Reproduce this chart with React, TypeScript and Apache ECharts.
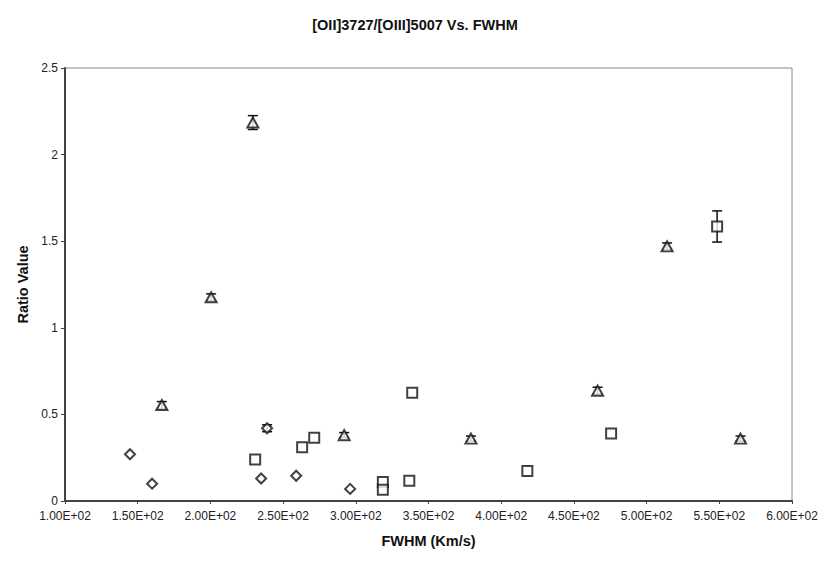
import React, { useEffect, useRef } from "react";
import * as echarts from "echarts";

// Diamonds series: [FWHM, ratio]
const diamondX = [144.7, 159.9, 234.9, 239, 259, 296.1];
const diamondY = [0.27, 0.1, 0.13, 0.42, 0.146, 0.07];
const diamondErr = [0, 0, 0, 0.02, 0, 0];

// Squares series
const squareX = [230.8, 263.1, 271.4, 318.6, 318.6, 336.8, 338.8, 418, 475.6, 548.5];
const squareY = [0.24, 0.31, 0.365, 0.11, 0.065, 0.117, 0.625, 0.173, 0.39, 1.585];
const squareErr = [0, 0, 0, 0, 0, 0, 0, 0, 0, 0.09];

// Triangles series
const triX = [166.6, 200.5, 229.2, 292, 379.2, 466.3, 514.1, 564.6];
const triY = [0.554, 1.176, 2.185, 0.38, 0.36, 0.637, 1.47, 0.36];
const triErr = [0.02, 0.02, 0.04, 0.015, 0.015, 0.02, 0.02, 0.015];

const xTicks = [100, 150, 200, 250, 300, 350, 400, 450, 500, 550, 600];
const yTicks = [0, 0.5, 1, 1.5, 2, 2.5];

const FONT = "'Liberation Sans', Arial, sans-serif";

function pts(xs: number[], ys: number[]) {
  return xs.map((x, i) => [x, ys[i]]);
}

function errData(xs: number[], ys: number[], es: number[]) {
  const out: number[][] = [];
  xs.forEach((x, i) => {
    if (es[i] > 0) out.push([x, ys[i] - es[i], ys[i] + es[i]]);
  });
  return out;
}

export default function App() {
  const ref = useRef<HTMLDivElement>(null);
  useEffect(() => {
    if (!ref.current) return;
    const chart = echarts.init(ref.current, null, { renderer: "svg" });
    const errs = [
      ...errData(diamondX, diamondY, diamondErr),
      ...errData(squareX, squareY, squareErr),
      ...errData(triX, triY, triErr),
    ];
    const markerStyle = { color: "#ffffff", borderColor: "#111", borderWidth: 2 };
    chart.setOption({
      animation: false,
      backgroundColor: "#ffffff",
      title: {
        text: "[OII]3727/[OIII]5007 Vs. FWHM",
        left: "center",
        top: 12,
        textStyle: { fontFamily: FONT, fontSize: 14.5, fontWeight: "bold", color: "#111" },
      },
      grid: {
        left: 65,
        top: 68,
        right: 38,
        bottom: 62,
        show: true,
        borderColor: "#888",
        borderWidth: 1,
        backgroundColor: "#fff",
      },
      xAxis: {
        type: "value",
        min: xTicks[0],
        max: xTicks[xTicks.length - 1],
        interval: 50,
        name: "FWHM (Km/s)",
        nameLocation: "middle",
        nameGap: 32,
        nameTextStyle: { fontFamily: FONT, fontSize: 14.5, fontWeight: "bold", color: "#111" },
        axisLine: { show: true, onZero: false, lineStyle: { color: "#444", width: 2 } },
        axisTick: { show: true, length: 3, lineStyle: { color: "#444", width: 1 } },
        splitLine: { show: false },
        axisLabel: {
          fontFamily: FONT,
          fontSize: 12,
          color: "#222",
          margin: 9,
          formatter: (v: number) => (v / 100).toFixed(2) + "E+02",
        },
      },
      yAxis: {
        type: "value",
        min: yTicks[0],
        max: yTicks[yTicks.length - 1],
        interval: 0.5,
        name: "Ratio Value",
        nameLocation: "middle",
        nameGap: 33,
        nameTextStyle: { fontFamily: FONT, fontSize: 14.5, fontWeight: "bold", color: "#111" },
        axisLine: { show: true, lineStyle: { color: "#444", width: 2 } },
        axisTick: { show: true, length: 4, lineStyle: { color: "#444", width: 1 } },
        splitLine: { show: false },
        axisLabel: { fontFamily: FONT, fontSize: 12, color: "#222", margin: 7 },
      },
      series: [
        {
          type: "custom",
          name: "err",
          z: 1,
          data: errs,
          renderItem: (params: any, api: any) => {
            const x = api.value(0);
            const lo = api.coord([x, api.value(1)]);
            const hi = api.coord([x, api.value(2)]);
            const w = 5;
            const style = { stroke: "#111", lineWidth: 1.5 };
            return {
              type: "group",
              children: [
                { type: "line", shape: { x1: lo[0], y1: lo[1], x2: hi[0], y2: hi[1] }, style },
                { type: "line", shape: { x1: lo[0] - w, y1: lo[1], x2: lo[0] + w, y2: lo[1] }, style },
                { type: "line", shape: { x1: hi[0] - w, y1: hi[1], x2: hi[0] + w, y2: hi[1] }, style },
              ],
            };
          },
        },
        {
          type: "scatter",
          name: "Diamond",
          z: 3,
          symbol: "diamond",
          symbolSize: [10, 10],
          itemStyle: markerStyle,
          data: pts(diamondX, diamondY),
        },
        {
          type: "scatter",
          name: "Square",
          z: 3,
          symbol: "rect",
          symbolSize: 10,
          itemStyle: markerStyle,
          data: pts(squareX, squareY),
        },
        {
          type: "scatter",
          name: "Triangle",
          z: 3,
          symbol: "triangle",
          symbolSize: [11, 10],
          itemStyle: markerStyle,
          data: pts(triX, triY),
        },
      ],
    });
    return () => chart.dispose();
  }, []);
  return (
    <div
      ref={ref}
      style={{ position: "absolute", left: 0, top: 0, width: 830, height: 563 }}
    />
  );
}
